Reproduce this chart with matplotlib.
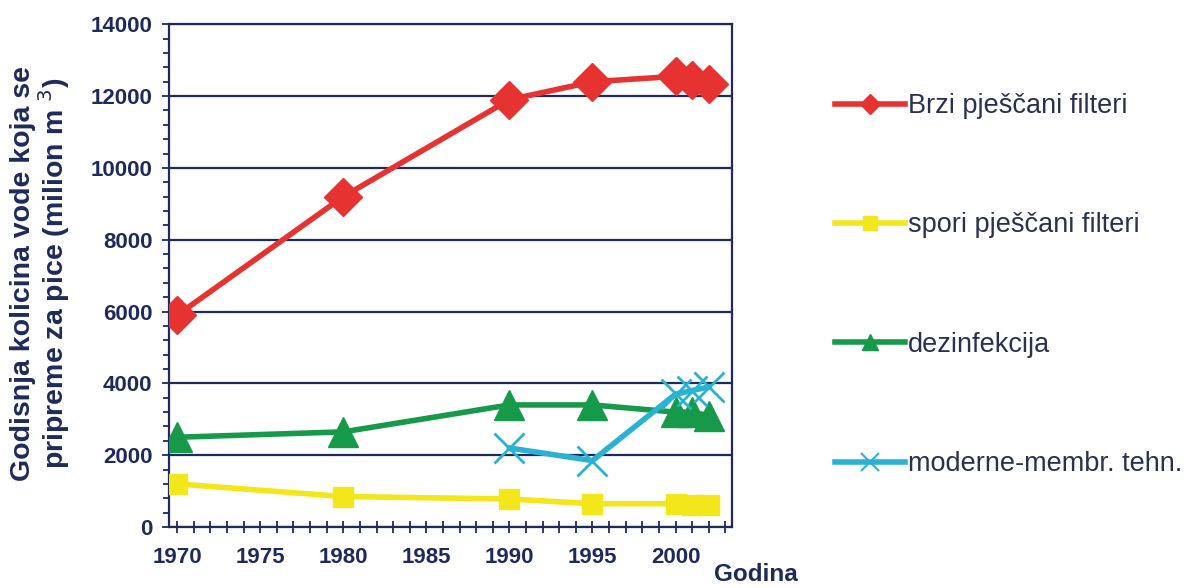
import matplotlib
matplotlib.use("Agg")
import matplotlib.pyplot as plt
from matplotlib.lines import Line2D
from matplotlib.ticker import MultipleLocator

plt.rcParams['font.family'] = ['Liberation Sans', 'DejaVu Sans']

years = [1970, 1980, 1990, 1995, 2000, 2001, 2002]
brzi = [5900, 9200, 11900, 12400, 12550, 12450, 12350]
spori = [1200, 850, 780, 650, 650, 600, 600]
dezinf = [2500, 2650, 3400, 3400, 3200, 3200, 3100]
years_mem = [1990, 1995, 2000, 2001, 2002]
membr = [2200, 1850, 3700, 3800, 3900]

labels = ["Brzi pješčani filteri", "spori pješčani filteri", "dezinfekcija",
          "moderne-membr. tehn."]
xtick_vals = [1970, 1975, 1980, 1985, 1990, 1995, 2000]

navy = "#1f2a5c"
c_red = "#e63331"
c_yel = "#f3e61a"
c_grn = "#17994a"
c_cya = "#29b2d2"

fig = plt.figure(figsize=(11.98, 5.88), dpi=100)
ax = fig.add_axes([0.141, 0.1037, 0.47, 0.855])

ax.plot(years, brzi, color=c_red, lw=4, marker='D', ms=19, mec=c_red, zorder=5)
ax.plot(years, spori, color=c_yel, lw=4, marker='s', ms=15, mec=c_yel, zorder=3)
ax.plot(years, dezinf, color=c_grn, lw=4, marker='^', ms=21, mec=c_grn, zorder=4)
ax.plot(years_mem, membr, color=c_cya, lw=4, marker='x', ms=22, mew=2, mec=c_cya, zorder=6)

ax.set_xlim(1969.5, 2003.4)
ax.set_ylim(0, 14000)
ax.set_xticks(xtick_vals)
ax.xaxis.set_minor_locator(MultipleLocator(1))
ax.yaxis.set_major_locator(MultipleLocator(2000))
ax.yaxis.set_minor_locator(MultipleLocator(400))
ax.grid(axis='y', which='major', color=navy, lw=1.6)
ax.set_axisbelow(True)

for s in ax.spines.values():
    s.set_color(navy)
    s.set_linewidth(1.6)

ax.tick_params(axis='x', which='both', direction='inout', length=9, width=1.3,
               color=navy, labelsize=16, labelcolor=navy, pad=10)
ax.tick_params(axis='y', which='major', direction='inout', length=10, width=1.3,
               color=navy, labelsize=16, labelcolor=navy, pad=7)
ax.tick_params(axis='y', which='minor', direction='out', length=4, width=1.3, color=navy)
for t in ax.get_xticklabels() + ax.get_yticklabels():
    t.set_fontweight('bold')

fig.text(0.034, 0.535, "Godisnja kolicina vode koja se\npripreme za pice (milion m $^{3}$)",
         rotation=90, ha='center', va='center', multialignment='center',
         fontsize=20.5, fontweight='bold', color=navy, linespacing=1.0)

fig.text(0.596, 0.012, "Godina", fontsize=17.5, fontweight='bold', color=navy, ha='left')

handles = [
    Line2D([], [], color=c_red, lw=4, marker='D', ms=10, mec=c_red),
    Line2D([], [], color=c_yel, lw=4, marker='s', ms=10, mec=c_yel),
    Line2D([], [], color=c_grn, lw=4, marker='^', ms=12, mec=c_grn),
    Line2D([], [], color=c_cya, lw=4, marker='x', ms=13, mew=1.5, mec=c_cya),
]
leg = fig.legend(handles, labels, loc='center left', bbox_to_anchor=(0.697, 0.515),
                 frameon=False, fontsize=19.5, labelspacing=3.45, handlelength=2.6,
                 handletextpad=0.1, borderpad=0, borderaxespad=0)
for t in leg.get_texts():
    t.set_color("#2b3050")

fig.savefig("out.png", dpi=100)
